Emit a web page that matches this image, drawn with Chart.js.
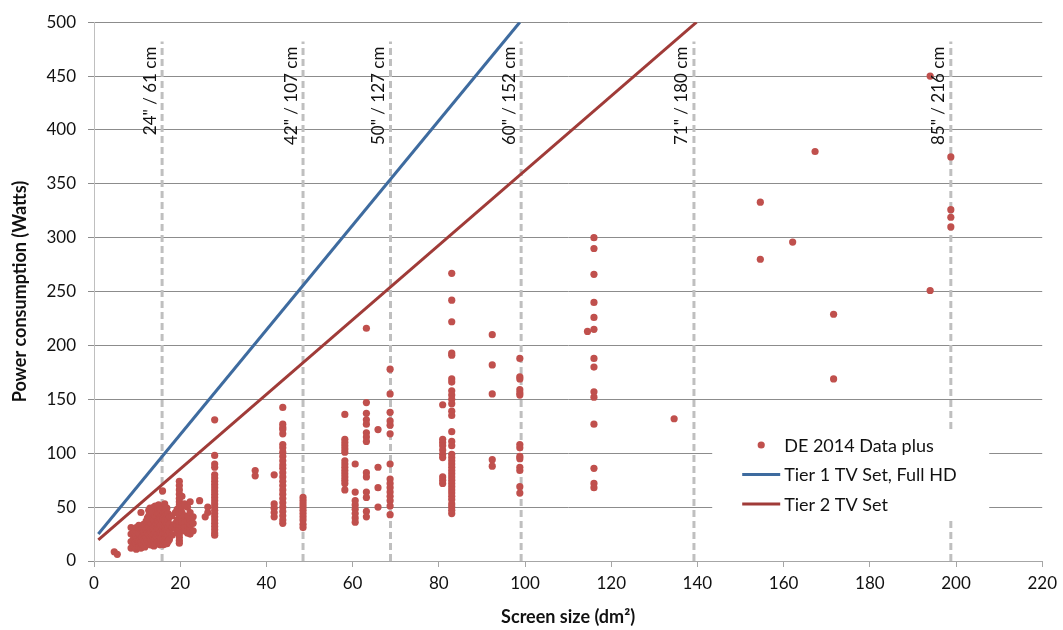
<!DOCTYPE html>
<html>
<head>
<meta charset="utf-8">
<script src="https://cdn.jsdelivr.net/npm/chart.js@4.4.0/dist/chart.umd.min.js"></script>
<style>
  body { margin: 0; background: #fff; }
  #wrap { width: 1063px; height: 630px; }
</style>
</head>
<body>
<div id="wrap"><canvas id="tv" width="1063" height="630"></canvas></div>
<script>
// TV models: each screen size (dm²) with the power readings (W) of models at that size
var modelSizes = [4.7, 5.4, 8.6, 9.2, 9.5, 9.8, 10.1, 10.4, 10.9, 11.2, 11.5, 11.8, 12.1, 12.4, 12.7, 13.0,
  13.3, 13.6, 13.9, 14.2, 14.5, 14.8, 15.0, 15.3, 15.5, 15.9, 16.1, 16.4, 16.6, 16.9, 17.2, 17.5, 18.1,
  18.9, 19.3, 19.8, 20.4, 21.0, 21.7, 22.3, 23.0, 24.5, 25.8, 26.4, 28.0,
  37.4, 41.8, 43.8, 48.5, 58.2, 60.6, 63.2, 65.9, 68.7, 80.9, 83.0, 92.4, 98.8, 114.5, 116.0,
  134.6, 154.6, 162.1, 167.3, 171.6, 194.0, 198.8];
var modelWatts = [
  [8.6], [6.2], [12, 18, 25, 31], [14, 21, 28], [17, 24, 30], [11, 16, 23, 31], [13, 20, 27],
  [13, 19, 26, 33], [12, 18, 29, 45], [15, 22, 30], [15, 20, 27, 34], [13, 18, 24, 32],
  [16, 22, 29, 37], [19, 26, 34, 40], [17, 24, 32, 42, 47], [15, 21, 28, 36, 44, 49],
  [15, 20, 27, 35, 48], [17, 23, 30, 39, 45], [14, 19, 25, 31, 38, 50], [16, 21, 27, 33, 42, 51],
  [16, 22, 28, 34, 41, 46], [18, 25, 31, 37, 44, 49], [18, 24, 30, 37, 44, 52], [15, 20, 26, 33, 40, 47],
  [16, 21, 27, 33, 39, 48], [17, 23, 29, 36, 42, 50, 65], [15, 20, 26, 32, 39, 45],
  [18, 25, 31, 38, 45, 53], [16, 22, 29, 36, 42, 48], [16, 22, 28, 35, 43, 49], [18, 24, 31, 38, 44],
  [20, 27, 34, 41], [24, 31, 42], [30, 35, 45], [26, 33, 38, 48],
  [16.5, 19, 22, 25, 28, 31, 34, 37, 40, 43, 46, 49, 52, 55, 58, 62, 66, 70, 74],
  [32, 40, 50, 60, 36, 45], [28, 35, 42, 53, 31], [26, 33, 41, 50, 37], [25, 30, 38, 45, 55, 34], [28, 35, 41],
  [56], [41], [45, 50],
  [131, 98, 90, 87, 80, 77, 74, 71, 68, 65, 62, 59, 56, 53, 50, 47, 44, 41, 38, 35, 32, 29, 26, 24],
  [84, 79], [80, 53, 49, 45, 41],
  [142.5, 127, 124, 122, 118, 108, 105, 101, 97, 93, 89, 86, 82, 78, 74, 70, 66, 62, 58, 54, 50, 46, 42, 38, 35],
  [59, 56, 53, 50, 47, 44, 41, 38, 34, 31],
  [136, 113, 110, 107, 104, 101, 93, 90, 87, 84, 81, 78, 75, 72, 66],
  [90, 64, 56, 52, 48, 44, 40, 36],
  [216, 147, 137, 131, 127, 119, 115, 111, 82, 78, 64, 59, 46, 41],
  [122, 87, 68, 50],
  [178, 155, 138, 130, 126, 118, 90, 76, 72, 68, 64, 60, 56, 51, 43],
  [145, 113, 110, 107, 103, 99, 96, 78, 75, 72],
  [267, 242, 222, 193, 191, 169, 166, 158, 154, 150, 146, 139, 135, 120, 111, 107, 99, 96, 93, 90, 87,
   84, 81, 78, 75, 72, 69, 66, 63, 60, 57, 53, 50, 47, 44],
  [210, 182, 155, 94, 88],
  [188, 171, 169, 159, 156, 154, 108, 105, 97, 95, 87, 84, 69, 63],
  [213],
  [300, 290, 266, 240, 226, 215, 188, 180, 157, 152, 127, 86, 72, 68],
  [132], [333, 280], [296], [380], [229, 169], [450, 251], [375, 326, 319, 310]
];

// limit lines (end points)
var tier1Sizes = [1, 98.8];
var tier1Watts = [25, 500];
var tier2Sizes = [1, 139.8];
var tier2Watts = [19.5, 500];

// reference screen diagonals
var markerSizes = [15.8, 48.5, 68.8, 99.1, 139.2, 198.8];
var markerLabels = ['24" / 61 cm', '42" / 107 cm', '50" / 127 cm', '60" / 152 cm', '71" / 180 cm', '85" / 216 cm'];
var markerTop = 482;

var xTicks = { min: 0, max: 220, step: 20 };
var yTicks = { min: 0, max: 500, step: 50 };

var FONT = 'Lato, "Open Sans", sans-serif';

var points = [];
modelSizes.forEach(function (s, i) {
  modelWatts[i].forEach(function (w) { points.push({ x: s, y: w }); });
});

function pairs(xs, ys) {
  return xs.map(function (x, i) { return { x: x, y: ys[i] }; });
}

var datasets = [
  { label: 'DE 2014 Data plus', data: points, showLine: false, pointRadius: 3.6, pointHoverRadius: 3.6,
    pointBackgroundColor: '#C0504D', pointBorderWidth: 0, backgroundColor: '#C0504D', inLegend: true, order: 2 },
  { label: 'Tier 1 TV Set, Full HD', data: pairs(tier1Sizes, tier1Watts), showLine: true, pointRadius: 0,
    borderColor: '#3E6B9F', borderWidth: 3, inLegend: true, order: 1 },
  { label: 'Tier 2 TV Set', data: pairs(tier2Sizes, tier2Watts), showLine: true, pointRadius: 0,
    borderColor: '#A03B38', borderWidth: 3, inLegend: true, order: 1 }
];
markerSizes.forEach(function (s) {
  datasets.push({ label: 'marker', data: [{ x: s, y: 0 }, { x: s, y: markerTop }], showLine: true,
    pointRadius: 0, borderColor: '#BFBFBF', borderWidth: 3, borderDash: [7, 4], order: 3 });
});

// rotated size captions next to the dashed lines
var markerText = {
  id: 'markerText',
  afterDatasetsDraw: function (chart) {
    var ctx = chart.ctx, xs = chart.scales.x, ys = chart.scales.y;
    ctx.save();
    ctx.fillStyle = '#111';
    ctx.font = '17px ' + FONT;
    ctx.textAlign = 'right';
    ctx.textBaseline = 'middle';
    markerSizes.forEach(function (s, i) {
      ctx.save();
      ctx.translate(xs.getPixelForValue(s) - 12, ys.getPixelForValue(markerTop) + 5);
      ctx.rotate(-Math.PI / 2);
      ctx.fillText(markerLabels[i], 0, 0);
      ctx.restore();
    });
    ctx.restore();
  }
};

// legend box sitting inside the plot, bottom right
var boxLegend = {
  id: 'boxLegend',
  afterDraw: function (chart) {
    var ctx = chart.ctx, area = chart.chartArea;
    var x0 = area.right - 330, y0 = area.bottom - 131;
    ctx.save();
    ctx.fillStyle = '#fff';
    ctx.fillRect(x0, y0, 277, 88);
    ctx.font = '18px ' + FONT;
    ctx.textBaseline = 'middle';
    chart.data.datasets.filter(function (d) { return d.inLegend; }).forEach(function (d, i) {
      var cy = y0 + 15 + i * 29.5;
      if (d.showLine) {
        ctx.strokeStyle = d.borderColor;
        ctx.lineWidth = 3;
        ctx.beginPath();
        ctx.moveTo(x0 + 30, cy);
        ctx.lineTo(x0 + 68, cy);
        ctx.stroke();
      } else {
        ctx.fillStyle = d.backgroundColor;
        ctx.beginPath();
        ctx.arc(x0 + 49, cy, 3.6, 0, Math.PI * 2);
        ctx.fill();
      }
      ctx.fillStyle = '#111';
      ctx.fillText(d.label, x0 + 72, cy + 1);
    });
    ctx.restore();
  }
};

var chart = new Chart(document.getElementById('tv').getContext('2d'), {
  type: 'scatter',
  data: { datasets: datasets },
  plugins: [markerText, boxLegend],
  options: {
    responsive: false,
    animation: false,
    layout: { padding: { top: 17, right: 18, left: 0, bottom: 0 } },
    plugins: { legend: { display: false }, tooltip: { enabled: false } },
    scales: {
      x: {
        type: 'linear', min: xTicks.min, max: xTicks.max,
        ticks: { stepSize: xTicks.step, color: '#111', font: { family: FONT, size: 17 }, padding: 6 },
        grid: { drawOnChartArea: false, drawTicks: true, tickLength: 6, color: '#A6A6A6' },
        border: { color: '#A6A6A6' },
        title: { display: true, text: 'Screen size (dm²)', color: '#111',
          font: { family: FONT, size: 18, weight: 'bold' }, padding: { top: 4, bottom: 2 } },
        afterFit: function (s) { s.height = 69; }
      },
      y: {
        type: 'linear', min: yTicks.min, max: yTicks.max,
        ticks: { stepSize: yTicks.step, color: '#111', font: { family: FONT, size: 17 }, padding: 12 },
        grid: { color: '#8C8C8C', tickLength: 6 },
        border: { color: '#BFBFBF' },
        title: { display: true, text: 'Power consumption (Watts)', color: '#111',
          font: { family: FONT, size: 18, weight: 'bold' }, padding: { top: 9, bottom: 0 } },
        afterFit: function (s) { s.width = 94; }
      }
    }
  }
});
</script>
</body>
</html>
